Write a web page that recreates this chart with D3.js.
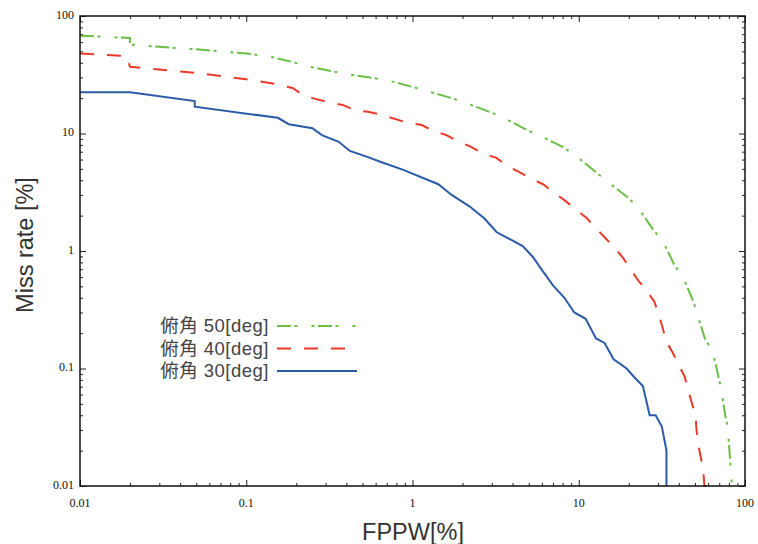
<!DOCTYPE html>
<html>
<head>
<meta charset="utf-8">
<script src="https://cdn.jsdelivr.net/npm/d3@7"></script>
<style>
  body { margin: 0; background: #fff; }
  svg { display: block; }
</style>
</head>
<body>
<svg id="chart"></svg>
<script>
// values: [FPPW %, miss rate %]
const deg50 = [
  [0.01, 68], [0.02, 65], [0.02, 57], [0.05, 52], [0.1, 48], [0.14, 45],
  [0.19, 40.6], [0.24, 37], [0.4, 32], [0.58, 29.7], [0.7, 28.5], [1.0, 24.9],
  [1.22, 23], [1.72, 20], [2.1, 18.2], [2.93, 15.2], [3.57, 13.5], [4.88, 10.7],
  [5.9, 9.5], [8.0, 7.7], [9.6, 6.45], [12.9, 4.6], [15.0, 3.85], [19.9, 2.83],
  [22.8, 2.33], [28.0, 1.52], [32.0, 1.22], [37.6, 0.76], [42.4, 0.6], [49, 0.37],
  [52, 0.28], [57.4, 0.18], [64, 0.14], [69, 0.087], [72, 0.067], [76, 0.04],
  [78.7, 0.032], [83.5, 0.01]
];
const deg40 = [
  [0.01, 48], [0.019, 45.6], [0.02, 37], [0.05, 32.7], [0.1, 29], [0.15, 26.4],
  [0.19, 24.4], [0.22, 21.2], [0.26, 19.7], [0.31, 18.5], [0.38, 17.5], [0.45, 15.8],
  [0.54, 15.3], [0.64, 14.5], [0.76, 13.5], [0.94, 12.3], [1.14, 11.8], [1.33, 10.5],
  [1.6, 9.7], [1.9, 8.5], [2.25, 7.7], [2.63, 6.8], [3.2, 6.2], [3.7, 5.3],
  [4.4, 4.7], [5.2, 4.1], [6.1, 3.7], [7.2, 3.1], [8.3, 2.67], [9.6, 2.27],
  [11.2, 1.9], [12.7, 1.56], [14.3, 1.31], [16.5, 1.06], [18.5, 0.87], [20.5, 0.7],
  [22.6, 0.57], [25.6, 0.46], [28.5, 0.37], [30.5, 0.28], [32, 0.22], [33.7, 0.168],
  [36.7, 0.137], [39.6, 0.11], [43.4, 0.085], [45.6, 0.065], [47.9, 0.051], [50.5, 0.039],
  [51, 0.031], [52.2, 0.023], [54, 0.018], [56, 0.014], [57, 0.01], [66, 0.01]
];
const deg30 = [
  [0.01, 22.4], [0.02, 22.4], [0.049, 18.9], [0.049, 16.9], [0.155, 13.6], [0.18, 12.0],
  [0.25, 11.1], [0.285, 9.7], [0.36, 8.5], [0.42, 7.1], [0.54, 6.3], [0.64, 5.75],
  [0.88, 4.9], [1.43, 3.7], [1.72, 3.0], [2.2, 2.4], [2.7, 1.9], [3.2, 1.45],
  [4.6, 1.1], [5.3, 0.89], [6.0, 0.69], [7.0, 0.51], [8.2, 0.4], [9.4, 0.3],
  [11.0, 0.265], [12.7, 0.18], [14.3, 0.165], [16.2, 0.12], [19.4, 0.1], [21.8, 0.083],
  [24.3, 0.071], [26.7, 0.04], [29, 0.04], [31.6, 0.032], [33.7, 0.02], [33.7, 0.01]
];

const seriesNames = ['俯角 50[deg]', '俯角 40[deg]', '俯角 30[deg]'];
const xTicks = [0.01, 0.1, 1, 10, 100];
const yTicks = [0.01, 0.1, 1, 10, 100];

const width = 758;
const height = 544;
const margin = { top: 16, right: 13, bottom: 58, left: 80 };

const series = [
  { name: seriesNames[0], data: deg50, color: '#6abf45', dash: '14,3.5,3,14,3,3.5' },
  { name: seriesNames[1], data: deg40, color: '#ec3a2a', dash: '14,13' },
  { name: seriesNames[2], data: deg30, color: '#2b5ba8', dash: null }
];

const x = d3.scaleLog()
  .domain([0.01, 100])
  .range([margin.left, width - margin.right]);

const y = d3.scaleLog()
  .domain([0.01, 100])
  .range([height - margin.bottom, margin.top]);

const svg = d3.select('#chart')
  .attr('width', width)
  .attr('height', height);

const tickFont = '"Liberation Serif", "Times New Roman", serif';
const textFont = '"Liberation Sans", "Noto Sans CJK JP", sans-serif';

// minor + major ticks, drawn inward on all four sides
const bottomAxis = d3.axisBottom(x).tickValues(x.ticks()).tickFormat('').tickSizeInner(-3).tickSizeOuter(0);
const topAxis = d3.axisTop(x).tickValues(x.ticks()).tickFormat('').tickSizeInner(-3).tickSizeOuter(0);
const leftAxis = d3.axisLeft(y).tickValues(y.ticks()).tickFormat('').tickSizeInner(-3).tickSizeOuter(0);
const rightAxis = d3.axisRight(y).tickValues(y.ticks()).tickFormat('').tickSizeInner(-3).tickSizeOuter(0);

const axes = [
  [bottomAxis, `translate(0,${height - margin.bottom})`],
  [topAxis, `translate(0,${margin.top})`],
  [leftAxis, `translate(${margin.left},0)`],
  [rightAxis, `translate(${width - margin.right},0)`]
];

axes.forEach(([ax, tr]) => {
  const g = svg.append('g').attr('transform', tr).call(ax);
  g.select('.domain').remove();
  g.selectAll('.tick line')
    .attr('stroke', '#222')
    .attr('stroke-width', 1)
    .filter(d => xTicks.includes(d))
    .attr('x2', function () { return +d3.select(this).attr('x2') * 2; })
    .attr('y2', function () { return +d3.select(this).attr('y2') * 2; });
});

// tick labels
svg.append('g')
  .attr('font-family', tickFont)
  .attr('font-size', 12)
  .attr('fill', '#111')
  .attr('text-anchor', 'middle')
  .selectAll('text')
  .data(xTicks)
  .join('text')
  .attr('x', d => x(d))
  .attr('y', height - margin.bottom + 21)
  .text(d => String(d));

svg.append('g')
  .attr('font-family', tickFont)
  .attr('font-size', 12)
  .attr('fill', '#111')
  .attr('text-anchor', 'end')
  .selectAll('text')
  .data(yTicks)
  .join('text')
  .attr('x', margin.left - 6)
  .attr('y', d => y(d))
  .attr('dy', '0.22em')
  .text(d => String(d));

// curves
const line = d3.line()
  .x(d => x(d[0]))
  .y(d => y(d[1]));

svg.append('g')
  .selectAll('path')
  .data(series)
  .join('path')
  .attr('fill', 'none')
  .attr('stroke', d => d.color)
  .attr('stroke-width', 2)
  .attr('stroke-dasharray', d => d.dash)
  .attr('d', d => line(d.data));

// frame
svg.append('rect')
  .attr('x', margin.left)
  .attr('y', margin.top)
  .attr('width', width - margin.left - margin.right)
  .attr('height', height - margin.top - margin.bottom)
  .attr('fill', 'none')
  .attr('stroke', '#111')
  .attr('stroke-width', 1.5);

// axis titles
svg.append('text')
  .attr('x', 413)
  .attr('y', 540)
  .attr('text-anchor', 'middle')
  .attr('font-family', textFont)
  .attr('font-size', 23.5)
  .attr('fill', '#333')
  .text('FPPW[%]');

svg.append('text')
  .attr('transform', 'translate(33,245) rotate(-90)')
  .attr('text-anchor', 'middle')
  .attr('font-family', textFont)
  .attr('font-size', 23.5)
  .attr('fill', '#333')
  .text('Miss rate [%]');

// legend
const legend = svg.append('g')
  .selectAll('g')
  .data(series)
  .join('g')
  .attr('transform', (d, i) => `translate(0,${326 + i * 22.5})`);

legend.append('text')
  .attr('x', 269)
  .attr('dy', '0.35em')
  .attr('text-anchor', 'end')
  .attr('font-family', textFont)
  .attr('font-size', 18.5)
  .attr('letter-spacing', 0.5)
  .attr('fill', '#444')
  .text(d => d.name);

legend.append('line')
  .attr('x1', 277)
  .attr('x2', 357)
  .attr('stroke', d => d.color)
  .attr('stroke-width', 2)
  .attr('stroke-dasharray', d => d.dash);
</script>
</body>
</html>
